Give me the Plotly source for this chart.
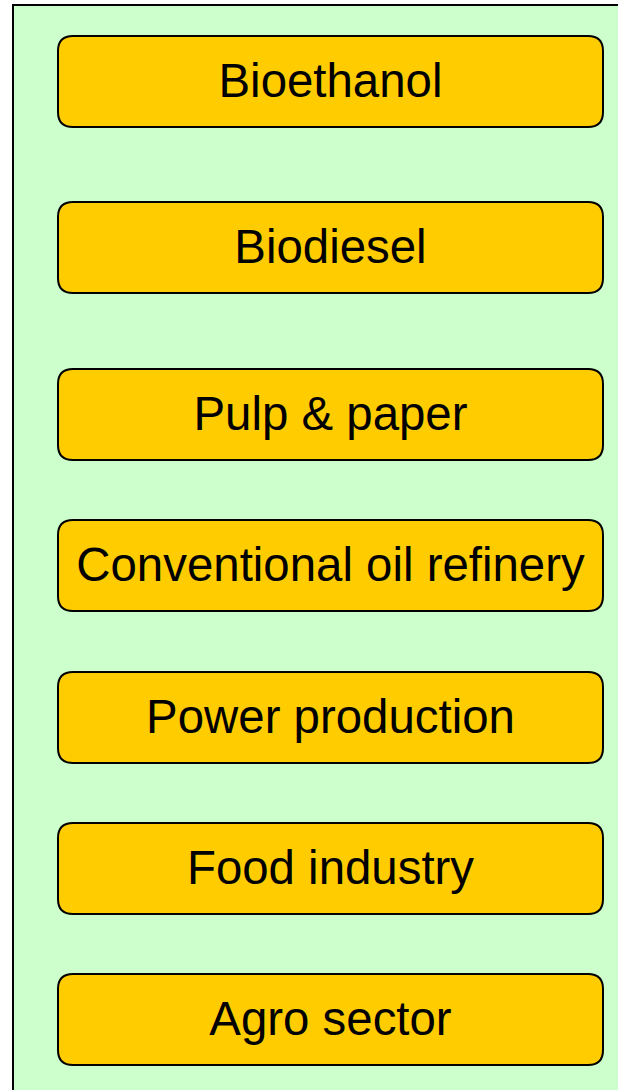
import plotly.graph_objects as go

# Data
labels = ["Bioethanol", "Biodiesel", "Pulp & paper", "Conventional oil refinery",
          "Power production", "Food industry", "Agro sector"]

# Layout (pixel-like coordinates)
W, H = 618, 1090
box_tops = [36, 202, 369, 520, 672, 823, 974]
box_h = 91
box_x0, box_x1 = 58, 603
radius = 15
text_dy = 3.5
panel = dict(x0=13, y0=5, x1=640, y1=1110)

def rrect(x0, y0, x1, y1, r):
    return (f"M{x0+r},{y0} L{x1-r},{y0} Q{x1},{y0} {x1},{y0+r} "
            f"L{x1},{y1-r} Q{x1},{y1} {x1-r},{y1} L{x0+r},{y1} "
            f"Q{x0},{y1} {x0},{y1-r} L{x0},{y0+r} Q{x0},{y0} {x0+r},{y0} Z")

fig = go.Figure()
shapes = [dict(type="rect", xref="x", yref="y", x0=panel["x0"], y0=panel["y0"],
               x1=panel["x1"], y1=panel["y1"], fillcolor="#CCFFCC",
               line=dict(color="#000000", width=2), layer="below")]
for t in box_tops:
    shapes.append(dict(type="path", xref="x", yref="y",
                       path=rrect(box_x0, t, box_x1, t + box_h, radius),
                       fillcolor="#FFCC00", line=dict(color="#000000", width=2),
                       layer="below"))

fig.add_trace(go.Scatter(
    x=[(box_x0 + box_x1) / 2] * len(labels),
    y=[t + box_h / 2 + text_dy for t in box_tops],
    mode="text", text=labels, textposition="middle center",
    textfont=dict(family="Liberation Sans, Arial, sans-serif", size=47.4, color="#000000"),
    hoverinfo="skip", showlegend=False))

fig.update_layout(
    width=W, height=H, margin=dict(l=0, r=0, t=0, b=0),
    paper_bgcolor="white", plot_bgcolor="white", shapes=shapes,
    xaxis=dict(range=[0, W], visible=False, fixedrange=True),
    yaxis=dict(range=[H, 0], visible=False, fixedrange=True),
    showlegend=False)

fig.write_html("out.html", config={"displayModeBar": False},
               post_script="document.body.style.margin='0';document.body.style.overflow='hidden';")
